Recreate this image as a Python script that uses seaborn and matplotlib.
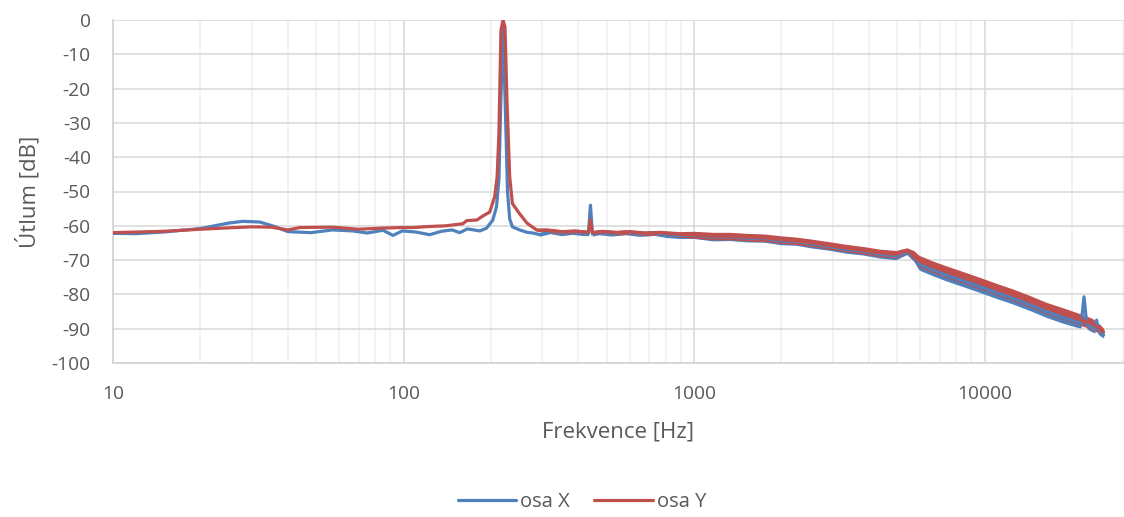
import numpy as np
import pandas as pd
import matplotlib
matplotlib.use("Agg")
import matplotlib.pyplot as plt
from matplotlib.ticker import LogLocator, FixedLocator, FuncFormatter, NullFormatter
import seaborn as sns

# Frequency response of the two axes (attenuation in dB vs. frequency in Hz)
freq_x = [10, 12, 15, 20, 25, 28, 32, 36, 40, 48,
          57, 67, 75, 85, 92, 99, 110, 123, 135, 147,
          156, 166, 183, 193, 203, 209, 213, 216, 220, 224,
          228, 232, 237, 251, 266, 279, 295, 320, 350, 380,
          410, 433, 440, 447, 470, 520, 580, 650, 730, 800,
          890, 1000, 1160, 1330, 1520, 1750, 1980, 2250, 2550, 2900,
          3340, 3800, 4350, 4950, 5400, 5700, 5950, 6600, 7340, 8400,
          9600, 11000, 12500, 14300, 16300, 18600, 21000, 21500, 22000, 22500,
          23500, 24000, 24300, 24600, 25000, 25700]
level_x = [-62.2, -62.3, -61.8, -60.8, -59.2, -58.7, -58.9, -60.2, -61.7, -62.0,
           -61.2, -61.5, -62.1, -61.3, -62.8, -61.5, -61.8, -62.6, -61.6, -61.2,
           -62.0, -60.9, -61.5, -60.7, -58.3, -54.4, -46.6, -25.0, -2.0, -25.0,
           -50.0, -58.0, -60.3, -61.2, -61.9, -62.1, -62.6, -61.6, -62.2, -61.8,
           -62.1, -62.3, -54.0, -62.4, -61.9, -62.3, -61.9, -62.4, -62.1, -62.6,
           -62.8, -62.7, -63.3, -63.2, -63.6, -63.7, -64.4, -64.6, -65.4, -66.0,
           -66.9, -67.4, -68.3, -68.8, -67.6, -68.9, -71.2, -72.8, -74.3, -76.0,
           -77.7, -79.5, -81.1, -83.0, -85.0, -86.7, -88.2, -88.6, -80.7, -88.9,
           -89.6, -90.0, -87.5, -90.4, -90.8, -91.8]
# half-width of the measurement noise band around each point (dB)
spread_x = [0, 0, 0, 0, 0, 0, 0, 0, 0, 0,
            0, 0, 0, 0, 0, 0, 0, 0, 0, 0,
            0, 0, 0, 0, 0, 0, 0, 0, 0, 0,
            0, 0, 0, 0, 0, 0, 0.4, 0.7, 0.7, 0.7,
            0.7, 0.6, 0, 0.6, 0.7, 0.7, 0.7, 0.7, 0.7, 0.8,
            0.9, 1.0, 1.1, 1.1, 1.1, 1.1, 1.1, 1.1, 1.1, 1.1,
            1.1, 1.1, 1.1, 1.1, 0.8, 1.4, 1.7, 1.7, 1.7, 1.7,
            1.7, 1.7, 1.7, 1.7, 1.7, 1.7, 1.5, 1.2, 0, 1.2,
            1.4, 1.2, 0, 1.2, 1.3, 0.9]

freq_y = [10, 15, 20, 25, 30, 35, 40, 44, 57, 70,
          83, 99, 108, 123, 140, 160, 165, 179, 187, 198,
          206, 210, 213, 216.5, 220, 223.5, 227, 232, 237, 251,
          266, 287, 311, 350, 390, 433, 440, 447, 480, 540,
          600, 680, 760, 890, 1000, 1160, 1330, 1520, 1750, 1980,
          2250, 2550, 2900, 3340, 3800, 4350, 4950, 5400, 5700, 5950,
          6600, 7340, 8400, 9600, 11000, 12500, 14300, 16300, 18600, 21300,
          23500, 25000, 25700]
level_y = [-62.0, -61.6, -61.0, -60.6, -60.3, -60.4, -61.2, -60.5, -60.4, -61.0,
           -60.7, -60.5, -60.5, -60.2, -60.0, -59.4, -58.5, -58.3, -57.2, -56.0,
           -51.5, -45.7, -33.0, -3.0, 0.0, -2.0, -23.3, -45.7, -53.5, -56.5,
           -59.2, -61.2, -61.3, -61.8, -61.6, -61.9, -58.3, -62.0, -61.7, -62.0,
           -61.8, -62.2, -62.0, -62.5, -62.6, -63.0, -63.0, -63.3, -63.5, -64.0,
           -64.4, -65.0, -65.7, -66.5, -67.1, -67.9, -68.3, -67.2, -68.6, -70.3,
           -71.9, -73.3, -75.0, -76.7, -78.5, -80.1, -82.0, -84.0, -85.6, -87.3,
           -88.6, -90.2, -90.9]
spread_y = [0, 0, 0, 0, 0, 0, 0, 0, 0, 0,
            0, 0, 0, 0, 0, 0, 0, 0, 0, 0,
            0, 0, 0, 0, 0, 0, 0, 0, 0, 0,
            0, 0.4, 0.7, 0.7, 0.7, 0.6, 0, 0.6, 0.7, 0.7,
            0.7, 0.7, 0.7, 0.8, 1.0, 1.1, 1.1, 1.1, 1.1, 1.1,
            1.1, 1.1, 1.1, 1.1, 1.1, 1.1, 1.1, 0.8, 1.4, 1.7,
            1.7, 1.7, 1.7, 1.7, 1.7, 1.7, 1.7, 1.7, 1.7, 1.7,
            1.6, 1.4, 1.0]

series_names = ["osa X", "osa Y"]
series_colors = ["#4F81BD", "#C0504D"]
y_ticks = [0, -10, -20, -30, -40, -50, -60, -70, -80, -90, -100]
x_ticks = [10, 100, 1000, 10000]

sns.set_theme(style="white")
text_color = "#595959"
plt.rcParams["font.family"] = ["Open Sans", "DejaVu Sans"]
plt.rcParams["axes.unicode_minus"] = False

fig = plt.figure(figsize=(11.24, 5.17), dpi=100)
ax = fig.add_axes([113 / 1124, 154 / 517, 1011 / 1124, 343 / 517])

frames = []
for name, f, lv, sp in [(series_names[0], freq_x, level_x, spread_x),
                        (series_names[1], freq_y, level_y, spread_y)]:
    frames.append(pd.DataFrame({"freq": f, "level": lv, "spread": sp, "axis": name}))
df = pd.concat(frames, ignore_index=True)

for name, color in zip(series_names, series_colors):
    d = df[df["axis"] == name]
    lo = d["level"] - d["spread"]
    hi = d["level"] + d["spread"]
    ax.fill_between(d["freq"], lo, hi, color=color, lw=0, zorder=3)
    sns.lineplot(data=d, x="freq", y="level", ax=ax, color=color, lw=2.3,
                 estimator=None, sort=False, label=name, zorder=4, legend=False)

ax.set_xscale("log")
ax.set_xlim(10, 30200)
ax.set_ylim(-100, 0)

ax.xaxis.set_major_locator(FixedLocator(x_ticks))
ax.xaxis.set_major_formatter(FuncFormatter(lambda v, p: f"{int(round(v))}"))
ax.xaxis.set_minor_locator(LogLocator(base=10, subs=np.arange(2, 10), numticks=20))
ax.xaxis.set_minor_formatter(NullFormatter())
ax.yaxis.set_major_locator(FixedLocator(y_ticks))
ax.yaxis.set_major_formatter(FuncFormatter(lambda v, p: f"{int(round(v))}"))

ax.grid(which="major", axis="y", color="#D9D9D9", lw=1.1, zorder=0)
ax.grid(which="major", axis="x", color="#D9D9D9", lw=1.1, zorder=0)
ax.grid(which="minor", axis="x", color="#EFEFEF", lw=1.1, zorder=0)
ax.set_axisbelow(True)

for side in ["top", "right"]:
    ax.spines[side].set_visible(False)
for side in ["left", "bottom"]:
    ax.spines[side].set_color("#D0D0D0")
    ax.spines[side].set_linewidth(1.1)

ax.tick_params(axis="both", which="both", length=0, labelsize=13.8, labelcolor=text_color)
ax.tick_params(axis="y", pad=16)
ax.tick_params(axis="x", pad=16)

ax.set_xlabel("Frekvence [Hz]", fontsize=16, color=text_color)
ax.set_ylabel("Útlum [dB]", fontsize=16, color=text_color)
ax.xaxis.set_label_coords(0.5, -0.17)
ax.yaxis.set_label_coords(-0.072, 0.5)

handles = [plt.Line2D([], [], color=c, lw=2.3) for c in series_colors]
leg = fig.legend(handles, series_names, loc="center", bbox_to_anchor=(582 / 1124, 15 / 517),
                 ncol=2, frameon=False, fontsize=14.5, handlelength=2.9,
                 handletextpad=0.2, columnspacing=1.2)
for t in leg.get_texts():
    t.set_color(text_color)

fig.savefig("out.png", dpi=100, facecolor="white")
